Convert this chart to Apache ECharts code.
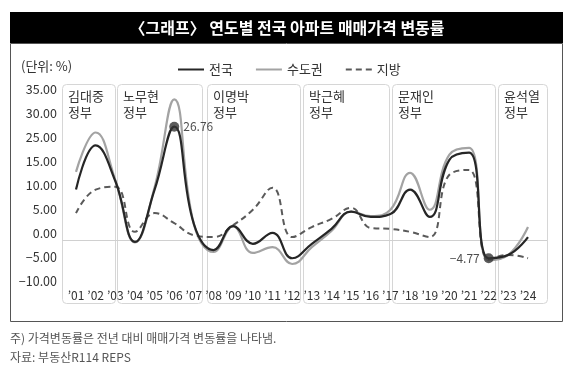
<!DOCTYPE html>
<html><head><meta charset="utf-8">
<script src="https://cdn.jsdelivr.net/npm/echarts@6/dist/echarts.min.js"></script>
<style>html,body{margin:0;padding:0;background:#fff}#c{width:575px;height:372px}</style>
</head><body><div id="c"></div>
<script>
// ---- data (in the chart's vertical scale) ----
const years = ['’01','’02','’03','’04','’05','’06','’07','’08','’09','’10','’11','’12','’13','’14','’15','’16','’17','’18','’19','’20','’21','’22','’23','’24'];
const national = [10.5, 19.7, 12.3, -0.4, 10.5, 23.6, 3.3, -2.1, 2.9, -0.8, 1.5, -3.8, -0.8, 2.3, 5.9, 4.8, 5.4, 10.5, 4.8, 16.7, 18.2, -3.8, -3.1, 0.6];
const capital  = [14.2, 22.4, 12.5, -0.5, 11.0, 29.3, 3.3, -2.5, 2.9, -2.7, -1.5, -5.0, -1.5, 1.9, 5.9, 5.0, 6.3, 14.0, 6.3, 17.8, 19.2, -4.2, -3.1, 2.7];
const regional = [5.6, 10.5, 11.1, 1.7, 5.6, 3.5, 1.0, 0.6, 3.1, 6.3, 10.9, 0.6, 2.7, 4.4, 6.7, 2.5, 2.3, 1.7, 0.6, 13.6, 14.6, -4.0, -3.1, -3.8];
const seriesNames = ['전국', '수도권', '지방'];
const yTickLabels = ['−10.00','−5.00','0.00','5.00','10.00','15.00','25.00','30.00','35.00'];
const governments = ['김대중', '노무현', '이명박', '박근혜', '문재인', '윤석열'];
const highlightYears = ['’06', '’22'];
const highlightTexts = ['26.76', '−4.77'];
const titleText = '〈그래프〉 연도별 전국 아파트 매매가격 변동률';
const unitText = '(단위: %)';
const noteText = '주) 가격변동률은 전년 대비 매매가격 변동률을 나타냄.';
const sourceText = '자료: 부동산R114 REPS';

// ---- layout (not data) ----
const panelEdges = [[-0.7,1.98],[2.09,6.41],[6.67,11.4],[11.55,15.93],[16.08,21.3],[21.48,23.97]];
const FONT = '"Noto Sans CJK KR", "Noto Sans", sans-serif';

const chart = echarts.init(document.getElementById('c'), null, {renderer: 'canvas'});

const hlData = highlightYears.map((y, k) => ({
  value: [y, national[years.indexOf(y)]],
  label: {show: true, formatter: highlightTexts[k], position: k === 0 ? 'right' : 'left', distance: 4}
}));

const option = {
  animation: false,
  textStyle: {fontFamily: FONT},
  grid: {left: 76, right: 47, top: 96, bottom: 84},
  legend: {
    left: 172, top: 58, itemWidth: 26, itemHeight: 12, itemGap: 22,
    textStyle: {fontSize: 13, color: '#333', fontFamily: FONT},
    itemStyle: {opacity: 0},
    lineStyle: {opacity: 1},
    data: seriesNames
  },
  xAxis: {
    type: 'category', data: years, boundaryGap: false,
    axisLine: {show: false, onZero: false}, axisTick: {show: false},
    axisLabel: {fontSize: 12, color: '#333', margin: 1, fontFamily: FONT, interval: 0, hideOverlap: false, letterSpacing: -0.6},
    splitLine: {show: false}
  },
  yAxis: {
    type: 'value', min: -10, max: 30, interval: 5,
    axisLine: {show: false}, axisTick: {show: false}, splitLine: {show: false},
    axisLabel: {fontSize: 12.5, color: '#333', margin: 19, verticalAlign: 'bottom', fontFamily: FONT,
      formatter: v => yTickLabels[Math.round((v + 10) / 5)]}
  },
  series: [
    {name: seriesNames[1], type: 'line', data: capital, smooth: 0.45, symbol: 'none', z: 3,
      lineStyle: {color: '#a3a3a3', width: 2.2}, itemStyle: {color: '#a3a3a3'}},
    {name: seriesNames[2], type: 'line', data: regional, smooth: 0.45, symbol: 'none', z: 3,
      lineStyle: {color: '#5a5a5a', width: 2, type: [6, 4]}, itemStyle: {color: '#5a5a5a'}},
    {name: seriesNames[0], type: 'line', data: national, smooth: 0.45, symbol: 'none', z: 4,
      lineStyle: {color: '#262626', width: 2.2}, itemStyle: {color: '#262626'}},
    {name: 'hl', type: 'scatter', data: hlData, symbolSize: 10, z: 5,
      itemStyle: {color: '#333'},
      label: {fontSize: 12, color: '#222', fontFamily: FONT, letterSpacing: -0.5}}
  ]
};
chart.setOption(option);

// ---- decorations placed through the axes ----
const p0 = chart.convertToPixel({xAxisIndex: 0}, 0);
const p1 = chart.convertToPixel({xAxisIndex: 0}, 1);
const step = p1 - p0;
const xAt = f => p0 + step * f;
const yZero = chart.convertToPixel({yAxisIndex: 0}, 0);
const panelTop = 84, panelBottom = 303;

const graphics = [
  {type: 'rect', shape: {x: 10, y: 12, width: 553, height: 31}, style: {fill: '#000'}, z: -20},
  {type: 'rect', shape: {x: 10.5, y: 43.5, width: 552, height: 278}, style: {fill: 'none', stroke: '#555', lineWidth: 1}, z: -20},
  {type: 'text', x: 287, y: 28, style: {text: titleText, fill: '#fff', font: 'bold 16px ' + FONT, textAlign: 'center', textVerticalAlign: 'middle'}},
  {type: 'text', x: 21, y: 66, style: {text: unitText, fill: '#333', font: '13px ' + FONT, textVerticalAlign: 'middle'}},
  {type: 'text', x: 10, y: 338, style: {text: noteText, fill: '#555', font: '12px ' + FONT, textVerticalAlign: 'middle'}},
  {type: 'text', x: 10, y: 357, style: {text: sourceText, fill: '#555', font: '12px ' + FONT, textVerticalAlign: 'middle'}}
];
panelEdges.forEach((e, k) => {
  const xl = xAt(e[0]), xr = xAt(e[1]);
  graphics.push({type: 'rect', shape: {x: Math.round(xl) + 0.5, y: panelTop + 0.5, width: Math.round(xr - xl), height: panelBottom - panelTop, r: 4},
    style: {fill: '#fff', stroke: '#d6d6d6', lineWidth: 1}, z: -10});
  graphics.push({type: 'text', x: Math.round(xl) + 6, y: panelTop + 4,
    style: {text: governments[k] + '\n정부', fill: '#333', font: '13px ' + FONT, lineHeight: 16}, z: -5});
});
graphics.push({type: 'line', shape: {x1: xAt(panelEdges[0][0]), y1: Math.round(yZero) + 0.5, x2: xAt(panelEdges[5][1]), y2: Math.round(yZero) + 0.5},
  style: {stroke: '#d0d0d0', lineWidth: 1}, z: -6});
chart.setOption({graphic: {elements: graphics}});
</script>
</body></html>
